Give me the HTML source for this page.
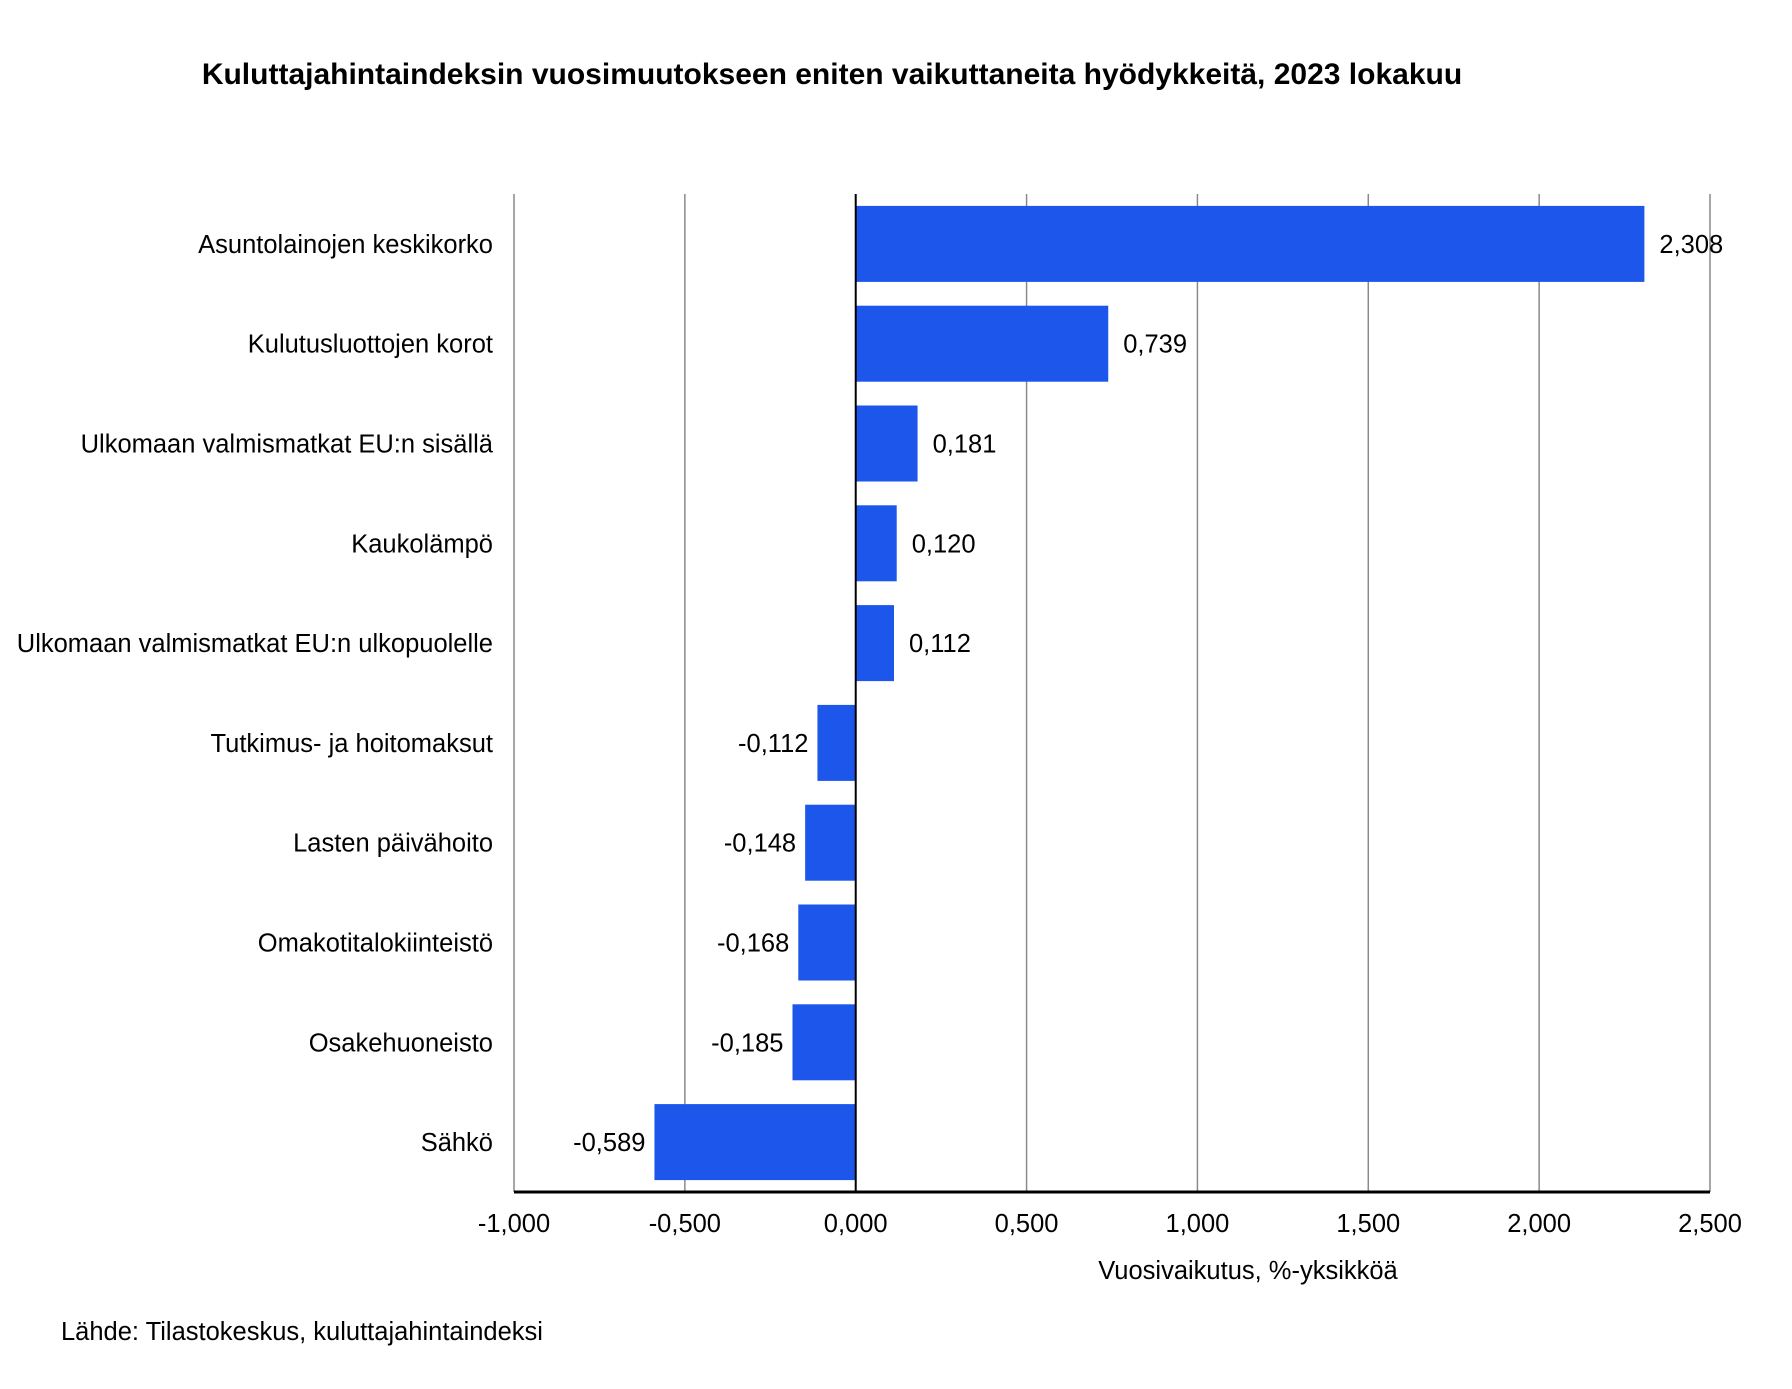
<!DOCTYPE html>
<html><head><meta charset="utf-8"><style>
body{margin:0;background:#fff;}
svg{display:block;font-family:"Liberation Sans",Arial,sans-serif;}
</style></head><body>
<svg id="chart" width="1792" height="1389" viewBox="0 0 1792 1389">
<text x="832" y="84" text-anchor="middle" font-size="30" font-weight="bold" fill="#000">Kuluttajahintaindeksin vuosimuutokseen eniten vaikuttaneita hyödykkeitä, 2023 lokakuu</text>
<g id="grid"></g><g id="bars"></g><g id="labels"></g>
<text x="1248" y="1279" text-anchor="middle" font-size="25.5" fill="#000">Vuosivaikutus, %-yksikköä</text>
<text x="61" y="1340" font-size="25.5" fill="#000">Lähde: Tilastokeskus, kuluttajahintaindeksi</text>
</svg>
<script>
const categories=["Asuntolainojen keskikorko","Kulutusluottojen korot","Ulkomaan valmismatkat EU:n sisällä","Kaukolämpö","Ulkomaan valmismatkat EU:n ulkopuolelle","Tutkimus- ja hoitomaksut","Lasten päivähoito","Omakotitalokiinteistö","Osakehuoneisto","Sähkö"];
const values=[2.308,0.739,0.181,0.120,0.112,-0.112,-0.148,-0.168,-0.185,-0.589];
const ticks=[-1,-0.5,0,0.5,1,1.5,2,2.5];
const NS="http://www.w3.org/2000/svg";
const x0=514,x1=1710,plotTop=194,plotBottom=1192,vmin=-1,vmax=2.5;
const xs=v=>x0+(v-vmin)/(vmax-vmin)*(x1-x0);
const band=(plotBottom-plotTop)/categories.length;
const fmt=v=>v.toFixed(3).replace('.',',');
function mk(tag,attrs,parent){const e=document.createElementNS(NS,tag);for(const k in attrs)e.setAttribute(k,attrs[k]);parent.appendChild(e);return e;}
const grid=document.getElementById('grid'),bars=document.getElementById('bars'),labels=document.getElementById('labels');
ticks.forEach(t=>{
  if(t!==0){const l=mk('line',{x1:xs(t),x2:xs(t),y1:plotTop,y2:plotBottom,stroke:'#8a8a8a','stroke-width':1.5},grid);
  
  }
  const tx=mk('text',{x:xs(t),y:1232,'text-anchor':'middle','font-size':25.5,fill:'#000'},labels);
  tx.textContent=t.toFixed(3).replace('.',',');
  
  
});
categories.forEach((c,i)=>{
  const v=values[i],cy=plotTop+band*(i+0.5),h=76;
  const a=xs(Math.min(0,v)),b=xs(Math.max(0,v));
  const r=mk('rect',{x:a,y:cy-h/2,width:b-a,height:h,fill:'#1c56eb'},bars);
  
  
  const cl=mk('text',{x:493,y:cy+9,'text-anchor':'end','font-size':25.5,fill:'#000'},labels);
  cl.textContent=c;
  
  
  const vl=mk('text',{x:v>=0?b+15:a-9,y:cy+9,'text-anchor':v>=0?'start':'end','font-size':25.5,fill:'#000'},labels);
  vl.textContent=fmt(v);
  
  
});
const z=mk('line',{x1:xs(0),x2:xs(0),y1:plotTop,y2:plotBottom,stroke:'#000','stroke-width':2},grid.parentNode);


const ax=mk('line',{x1:x0,x2:x1,y1:plotBottom,y2:plotBottom,stroke:'#000','stroke-width':3},grid.parentNode);


</script>
</body></html>
